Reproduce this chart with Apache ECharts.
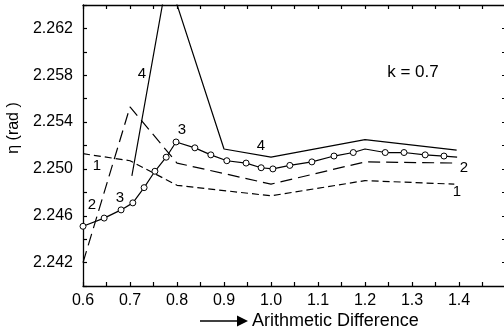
<!DOCTYPE html>
<html>
<head>
<meta charset="utf-8">
<script src="https://cdn.jsdelivr.net/npm/echarts@6/dist/echarts.min.js"></script>
<style>
html,body{margin:0;padding:0;background:#fff;}
#c{width:504px;height:334px;}
</style>
</head>
<body>
<div id="c"></div>
<script>
// ---- data ----
const xTickLabels = ['0.6','0.7','0.8','0.9','1.0','1.1','1.2','1.3','1.4'];
const yTickLabels = ['2.242','2.246','2.250','2.254','2.258','2.262'];

const curve1X = [0.6, 0.7, 0.8, 1.0, 1.2, 1.39];
const curve1Y = [2.2513, 2.2507, 2.2486, 2.2477, 2.2490, 2.2487];

const curve2X = [0.6, 0.7, 0.8, 1.0, 1.2, 1.395];
const curve2Y = [2.2420, 2.2553, 2.2505, 2.2487, 2.2506, 2.2505];

const curve3X = [0.6, 0.645, 0.681, 0.706, 0.73, 0.753, 0.777, 0.798, 0.838, 0.872, 0.906, 0.947, 0.979, 1.004, 1.04, 1.087, 1.134, 1.175, 1.2, 1.243, 1.283, 1.328, 1.368, 1.396];
const curve3Y = [2.2451, 2.2458, 2.2465, 2.2471, 2.2484, 2.2498, 2.2510, 2.2523, 2.2518, 2.2512, 2.2507, 2.2505, 2.2501, 2.2500, 2.2503, 2.2506, 2.2511, 2.2514, 2.2517, 2.2514, 2.2514, 2.2512, 2.2511, 2.2510];
const curve3Unmarked = [1.2, 1.396];   // line vertices without a circle

const curve4X = [0.704, 0.78, 0.9, 1.0, 1.2, 1.395];
const curve4Y = [2.2494, 2.2665, 2.2517, 2.2510, 2.2525, 2.2516];

const kText = 'k = 0.7';
const xTitle = 'Arithmetic Difference';
const yTitle = 'η (rad )';

// ---- chart ----
const FONT = '"Liberation Sans", Arial, Helvetica, sans-serif';
const pairs = (xs, ys) => xs.map((x, i) => [x, ys[i]]);

const chart = echarts.init(document.getElementById('c'), null, {renderer: 'canvas'});

const axLine = {show: true, onZero: false, lineStyle: {color: '#000', width: 1.3}};
const axTick = {show: true, inside: true, length: 4, lineStyle: {color: '#000', width: 1.2}};

const xBase = {type: 'value', min: 0.6, max: 1.5, interval: 0.05,
  axisLine: axLine, axisTick: axTick, splitLine: {show: false}};
const yBase = {type: 'value', min: 2.240, max: 2.264, interval: 0.002,
  axisLine: axLine, axisTick: axTick, splitLine: {show: false}};

const lineStyleBase = {color: '#000', width: 1.2};

const curve3Data = curve3X.map((x, i) => {
  const item = {value: [x, curve3Y[i]]};
  if (curve3Unmarked.indexOf(x) >= 0) item.symbol = 'none';
  return item;
});

chart.setOption({
  animation: false,
  backgroundColor: '#fff',
  grid: {left: 83, top: 5, width: 423, height: 281, containLabel: false, outerBoundsMode: 'none'},
  xAxis: [
    Object.assign({}, xBase, {position: 'bottom',
      axisLabel: {show: true, color: '#000', fontSize: 16, fontFamily: FONT, margin: 7,
        formatter: function (v) {
          const k = Math.round((v - 0.6) / 0.05);
          if (k % 2 !== 0) return '';
          const idx = k / 2;
          return idx < xTickLabels.length ? xTickLabels[idx] : '';
        }}}),
    Object.assign({}, xBase, {position: 'top', axisLabel: {show: false}})
  ],
  yAxis: [
    Object.assign({}, yBase, {position: 'left',
      axisLabel: {show: true, color: '#000', fontSize: 16, fontFamily: FONT, margin: 10,
        formatter: function (v) {
          const k = Math.round((v - 2.240) / 0.002);
          if (k % 2 !== 1) return '';
          const idx = (k - 1) / 2;
          return idx < yTickLabels.length ? yTickLabels[idx] : '';
        }}}),
    Object.assign({}, yBase, {position: 'right', axisLabel: {show: false}})
  ],
  series: [
    {type: 'line', name: '1', data: pairs(curve1X, curve1Y), symbol: 'none', clip: true,
      lineStyle: Object.assign({}, lineStyleBase, {type: [7, 4]})},
    {type: 'line', name: '2', data: pairs(curve2X, curve2Y), symbol: 'none', clip: true,
      lineStyle: Object.assign({}, lineStyleBase, {type: [12, 6]})},
    {type: 'line', name: '3', data: curve3Data, symbol: 'circle', symbolSize: 6, clip: true,
      showAllSymbol: true,
      lineStyle: Object.assign({}, lineStyleBase),
      itemStyle: {color: '#fff', borderColor: '#000', borderWidth: 1}},
    {type: 'line', name: '4', data: pairs(curve4X, curve4Y), symbol: 'none', clip: true,
      lineStyle: Object.assign({}, lineStyleBase)}
  ],
  graphic: [
    {type: 'text', x: 142, y: 74, style: {text: '4', font: '15px ' + FONT, fill: '#000', align: 'center', verticalAlign: 'middle'}},
    {type: 'text', x: 261, y: 146, style: {text: '4', font: '15px ' + FONT, fill: '#000', align: 'center', verticalAlign: 'middle'}},
    {type: 'text', x: 182, y: 130, style: {text: '3', font: '15px ' + FONT, fill: '#000', align: 'center', verticalAlign: 'middle'}},
    {type: 'text', x: 120, y: 198, style: {text: '3', font: '15px ' + FONT, fill: '#000', align: 'center', verticalAlign: 'middle'}},
    {type: 'text', x: 92, y: 205, style: {text: '2', font: '15px ' + FONT, fill: '#000', align: 'center', verticalAlign: 'middle'}},
    {type: 'text', x: 97, y: 166, style: {text: '1', font: '15px ' + FONT, fill: '#000', align: 'center', verticalAlign: 'middle'}},
    {type: 'text', x: 464, y: 168, style: {text: '2', font: '15px ' + FONT, fill: '#000', align: 'center', verticalAlign: 'middle'}},
    {type: 'text', x: 457, y: 192, style: {text: '1', font: '15px ' + FONT, fill: '#000', align: 'center', verticalAlign: 'middle'}},
    {type: 'text', x: 413, y: 72, style: {text: kText, font: '17px ' + FONT, fill: '#000', align: 'center', verticalAlign: 'middle'}},
    {type: 'text', x: 14, y: 128, rotation: Math.PI / 2, style: {text: yTitle, font: '16px ' + FONT, fill: '#000', align: 'center', verticalAlign: 'middle'}},
    {type: 'line', shape: {x1: 200, y1: 321, x2: 239, y2: 321}, style: {stroke: '#000', lineWidth: 1.3}},
    {type: 'polygon', shape: {points: [[237, 315.5], [248, 321], [237, 326.5]]}, style: {fill: '#000'}},
    {type: 'text', x: 252, y: 321, style: {text: xTitle, font: '18px ' + FONT, fill: '#000', align: 'left', verticalAlign: 'middle'}}
  ]
});
</script>
</body>
</html>
